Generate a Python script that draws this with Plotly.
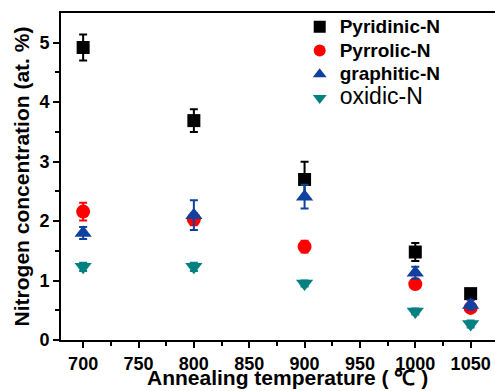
import plotly.graph_objects as go

temps = [700, 800, 900, 1000, 1050]
pyridinic = [4.92, 3.69, 2.70, 1.48, 0.78]
pyridinic_err = [0.22, 0.19, 0.30, 0.15, 0.05]
pyrrolic = [2.16, 2.03, 1.57, 0.94, 0.54]
pyrrolic_err = [0.15, 0.10, 0.10, 0.06, 0.06]
graphitic = [1.80, 2.10, 2.41, 1.13, 0.59]
graphitic_err = [0.10, 0.25, 0.20, 0.10, 0.08]
oxidic = [1.23, 1.23, 0.95, 0.48, 0.27]
oxidic_err = [0.07, 0.07, 0.05, 0.05, 0.06]

FONT = "Liberation Sans, Arial, sans-serif"

series = [
    ("<span style='font-size:19px'><b>Pyridinic-N</b></span>", pyridinic, pyridinic_err, "square", "#000000", 13),
    ("<span style='font-size:19px'><b>Pyrrolic-N</b></span>", pyrrolic, pyrrolic_err, "circle", "#ff0000", 14),
    ("<span style='font-size:19px'><b>graphitic-N</b></span>", graphitic, graphitic_err, "triangle-up", "#1040a0", 15),
    ("<span style='font-size:23px'>oxidic-N</span>", oxidic, oxidic_err, "triangle-down", "#008080", 15),
]

fig = go.Figure()
for name, vals, errs, sym, col, sz in series:
    fig.add_trace(go.Scatter(
        x=temps, y=vals, mode="markers", name=name,
        marker=dict(symbol=sym, color=col, size=sz, line=dict(width=0)),
        error_y=dict(type="data", array=errs, visible=True, color=col, thickness=2, width=4),
    ))

fig.update_layout(
    width=495, height=391,
    margin=dict(l=61, r=0, t=13, b=51),
    paper_bgcolor="white", plot_bgcolor="white",
    font=dict(family=FONT, color="black"),
    showlegend=True,
    legend=dict(x=0.55, y=1.01, xanchor="left", yanchor="top",
                bgcolor="rgba(0,0,0,0)", font=dict(size=16, family=FONT),
                itemsizing="constant"),
    xaxis=dict(
        range=[680, 1072], tickvals=[700, 750, 800, 850, 900, 950, 1000, 1050],
        ticks="outside", ticklen=6, tickwidth=2, tickcolor="black",
        minor=dict(tickvals=[725, 775, 825, 875, 925, 975, 1025], ticks="outside", ticklen=4, tickwidth=2, tickcolor="black"),
        showline=True, linewidth=2, linecolor="black", mirror=True,
        showgrid=False, zeroline=False, automargin=False,
        tickfont=dict(size=18, family=FONT, weight="bold"),
    ),
    yaxis=dict(
        range=[0, 5.5], tickvals=[0, 1, 2, 3, 4, 5],
        ticks="outside", ticklen=6, tickwidth=2, tickcolor="black",
        minor=dict(tickvals=[0.5, 1.5, 2.5, 3.5, 4.5], ticks="outside", ticklen=4, tickwidth=2, tickcolor="black"),
        showline=True, linewidth=2, linecolor="black", mirror=False,
        showgrid=False, zeroline=False, automargin=False,
        tickfont=dict(size=18, family=FONT, weight="bold"),
        title=dict(text="<b>Nitrogen concentration (at. %)</b>", font=dict(size=21, family=FONT), standoff=4),
    ),
    annotations=[dict(
        text="<b>Annealing temperature ( ℃ )</b>", xref="paper", yref="paper",
        x=0.523, y=0.0, yshift=-25, xanchor="center", yanchor="top",
        showarrow=False, borderpad=0, font=dict(size=21, family=FONT, color="black"),
    )],
)

fig.write_html("out.html")
